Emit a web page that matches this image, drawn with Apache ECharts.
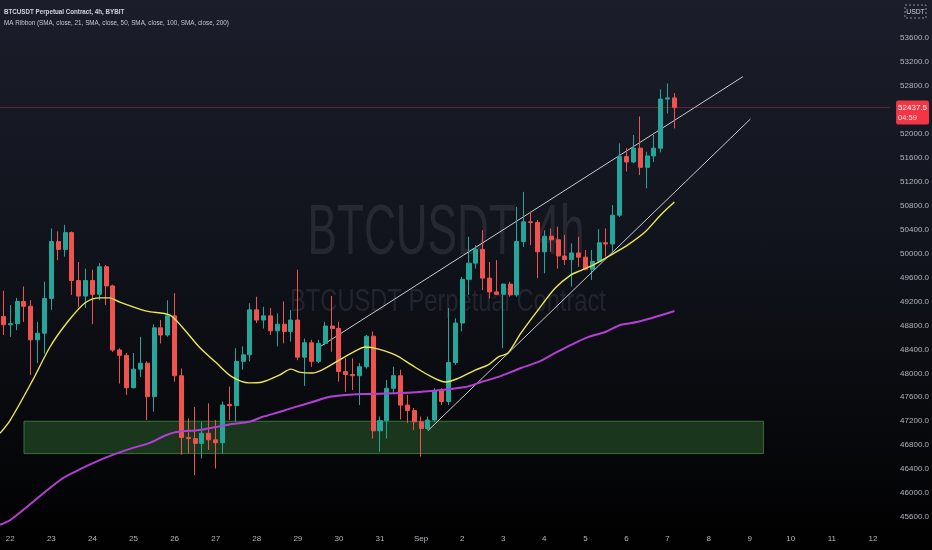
<!DOCTYPE html>
<html><head><meta charset="utf-8">
<script src="https://cdn.jsdelivr.net/npm/echarts/dist/echarts.min.js"></script>
<style>
html,body{margin:0;padding:0;}
body{width:932px;height:550px;overflow:hidden;background:linear-gradient(180deg,#1b1e2a 0%,#12151e 40%,#07080b 80%,#000 100%);}
#c{width:932px;height:550px;}
</style></head><body><div id="c"></div>
<script>
// 4h candles, first one = Aug 21 20:00 (index 0)
const opens  = [48950,48810,48830,49200,49120,48560,48670,49250,50200,50070,50350,49550,49290,49550,49320,49780,49460,48390,48300,47760,48070,48170,47610,48760,48640,48960,47960,46930,46910,46830,47000,46890,46840,47480,47460,48200,48310,49060,48890,48960,48710,48820,48700,48890,48270,48510,48200,48500,48790,48750,48030,47980,47960,48110,48620,47040,47210,47750,47960,47470,47380,47190,47080,47220,47710,47530,48180,48840,49570,49840,50070,49590,49360,49320,49490,49310,50200,50530,50520,50030,50290,50230,49960,49900,50010,49940,49740,49870,50180,50160,50640,51620,51530,51760,51440,51630,51760,52580,52600];
const closes = [48810,48830,49200,49120,48560,48670,49250,50200,50070,50350,49550,49290,49550,49320,49780,49460,48390,48300,47760,48070,48170,47610,48760,48640,48960,47960,46930,46910,46830,47000,46890,46840,47470,47460,48200,48310,49060,48890,48960,48710,48820,48700,48890,48270,48510,48200,48500,48790,48750,48030,47980,47960,48110,48620,47040,47210,47750,47960,47470,47380,47190,47080,47220,47710,47530,48180,48840,49570,49840,50070,49590,49360,49320,49490,49310,50200,50530,50520,50030,50290,50230,49960,49900,50010,49940,49740,49870,50180,50160,50640,51620,51530,51760,51440,51630,51760,52580,52600,52437.5];
const lows   = [48640,48610,48720,48860,47970,48170,48330,49060,49890,49950,49310,49110,49090,48820,49220,49140,48360,47830,47640,47750,47940,47220,47360,48500,48610,47860,46640,46660,46300,46580,46720,46410,46660,47220,47190,48060,48200,48840,48750,48640,48450,48500,48530,48220,47790,48110,48170,48470,48360,47860,47690,47720,47470,48080,46910,46690,46910,47670,47230,47170,47050,46610,47050,47190,47470,47470,48140,48700,49310,49750,49390,49250,49310,48420,49280,49280,50110,50140,49590,49670,50030,49750,49810,49450,49780,49720,49560,49840,49950,50030,50610,51370,51510,51310,51090,51530,51690,52340,52090];
const highs  = [49380,49140,49260,49450,49220,48860,49530,50420,50370,50480,50370,49860,49750,49730,49840,49810,49480,48420,48340,48340,48610,48200,48820,48890,49220,49340,48080,47250,47440,47190,47500,47220,47530,47780,48420,48450,49170,49280,49110,49090,49000,49200,49060,49730,48580,48560,48560,48860,49290,48860,48250,48250,48170,48640,48700,47280,47890,48110,48060,47640,47420,47280,47280,47750,47750,49090,48920,49610,50280,50140,50390,49860,49890,49500,49530,50780,51030,50700,50560,50390,50420,50450,50310,50170,50280,50060,50060,50410,50420,50810,51840,51760,51980,52290,51700,51980,52740,52840,52680];

// moving averages: [candle offset from Aug 22 00:00, price]
const maYellow = [[-1.5,47000],[0,47220],[3.3,47890],[5.8,48440],[8.25,48840],[10.9,49175],[13.1,49260],[14.5,49260],[16,49190],[19.9,49040],[23.25,48975],[25.1,48775],[27.6,48440],[30.1,48175],[32.4,47940],[34.9,47840],[36.8,47855],[39.3,47970],[41,48070],[42.2,48020],[44.1,48005],[45.5,48055],[47.6,48190],[49.9,48340],[51.9,48440],[53.8,48405],[56.3,48305],[58.6,48140],[61.1,47970],[63.6,47855],[65.5,47920],[67.9,48055],[69.8,48140],[71.3,48275],[72.7,48340],[74.6,48675],[77.1,49060],[79.6,49425],[81.9,49645],[83.4,49720],[85.4,49825],[87.7,49975],[90.2,50145],[92.7,50360],[95,50645],[97,50860]];
const maPurple = [[-1.5,45470],[0,45550],[7.5,46235],[10.6,46420],[14.1,46600],[17.9,46755],[20.3,46835],[22.8,46970],[24.3,47020],[27.6,47055],[30.1,47105],[32.4,47155],[34.9,47190],[36.8,47270],[39.3,47355],[41.7,47440],[44.1,47520],[46.5,47605],[49,47640],[51.9,47655],[56.7,47670],[61.5,47705],[66.5,47770],[68.8,47855],[71.3,47940],[74.6,48090],[77.1,48190],[79.6,48340],[81.9,48475],[84.4,48605],[86.9,48690],[89.2,48810],[91.7,48860],[97,49040]];

const trendUpper = [[45.4,48456],[107.0,52954]];
const trendLower = [[61.0,47042],[108.1,52247]];
const zoneTop = 47200, zoneBottom = 46660, zoneStart = 2, zoneEnd = 110;
const countdown = '04:59';

const categories = [];
for (let j = 0; j < 130; j++) {
  const d = new Date(Date.UTC(2021, 7, 21, 20) + j * 4 * 3600 * 1000);
  const mm = String(d.getUTCMonth() + 1).padStart(2, '0');
  const dd = String(d.getUTCDate()).padStart(2, '0');
  const hh = String(d.getUTCHours()).padStart(2, '0');
  categories.push(mm + '-' + dd + ' ' + hh + ':00');
}

const candles = opens.map((o, i) => [o, closes[i], lows[i], highs[i]]);
const lastClose = closes[closes.length - 1];
const FONT = '"Liberation Sans", Arial, sans-serif';
const axisTxt = '#b2b5be';

const chart = echarts.init(document.getElementById('c'), null, {renderer: 'canvas'});
chart.setOption({
  backgroundColor: 'transparent',
  animation: false,
  grid: {left: 0, right: 39, top: 0, bottom: 9, containLabel: false},
  xAxis: [{
    type: 'category', data: categories, boundaryGap: true, offset: -12,
    axisLine: {show: false}, axisTick: {show: false}, splitLine: {show: false},
    axisLabel: {
      color: axisTxt, fontSize: 8, fontFamily: FONT, margin: 6,
      interval: (idx, val) => val.endsWith(' 00:00'),
      formatter: (val) => { const d = val.split(' ')[0].split('-')[1]; return d === '01' ? 'Sep' : String(+d); }
    }
  }, {
    type: 'value', min: -1.5, max: 128.5, show: false
  }],
  yAxis: {
    type: 'value', position: 'right', min: 45200, max: 54234.6, interval: 400,
    axisLine: {show: false}, axisTick: {show: false}, splitLine: {show: false},
    axisLabel: {
      color: axisTxt, fontSize: 8, fontFamily: FONT, margin: 10,
      showMaxLabel: false,
      formatter: (v) => (v > 53600 || v < 45600) ? '' : v.toFixed(1)
    }
  },
  graphic: [
    {type: 'text', x: 446, y: 235, scaleX: 0.63, z: 0, silent: true,
     style: {text: 'BTCUSDT, 4h', fontSize: 70, fontFamily: FONT, fill: 'rgba(140,145,160,0.16)', align: 'center', verticalAlign: 'middle'}},
    {type: 'text', x: 448, y: 302, scaleX: 0.74, z: 0, silent: true,
     style: {text: 'BTCUSDT Perpetual Contract', fontSize: 32, fontFamily: FONT, fill: 'rgba(140,145,160,0.16)', align: 'center', verticalAlign: 'middle'}},
    {type: 'text', x: 4, y: 11.5, z: 10, scaleX: 0.78,
     style: {text: 'BTCUSDT Perpetual Contract, 4h, BYBIT', fontSize: 8, fontWeight: 'bold', fontFamily: FONT, fill: '#d1d4dc', align: 'left', verticalAlign: 'middle'}},
    {type: 'text', x: 4, y: 23, z: 10, scaleX: 0.79,
     style: {text: 'MA Ribbon (SMA, close, 21, SMA, close, 50, SMA, close, 100, SMA, close, 200)', fontSize: 8, fontFamily: FONT, fill: '#c3c6ce', align: 'left', verticalAlign: 'middle'}},
    {type: 'rect', z: 10, shape: {x: 905, y: 5, width: 21, height: 13}, style: {fill: 'none', stroke: '#8a8d96', lineWidth: 1, lineDash: [2, 2]}},
    {type: 'text', x: 915.5, y: 11.5, z: 10, scaleX: 0.85,
     style: {text: 'USDT', fontSize: 8, fontFamily: FONT, fill: '#d1d4dc', align: 'center', verticalAlign: 'middle'}}
  ],
  series: [
    {
      type: 'line', xAxisIndex: 1, data: trendUpper, showSymbol: false, silent: true, z: 1,
      lineStyle: {color: '#c9cbd1', width: 1},
      markArea: {
        silent: true,
        itemStyle: {color: 'rgba(76,175,80,0.28)', borderColor: 'rgba(90,180,90,0.55)', borderWidth: 1},
        data: [[{xAxis: zoneStart, yAxis: zoneTop}, {xAxis: zoneEnd, yAxis: zoneBottom}]]
      }
    },
    {type: 'line', xAxisIndex: 1, data: trendLower, showSymbol: false, silent: true, z: 3,
     lineStyle: {color: '#c9cbd1', width: 1}},
    {
      type: 'candlestick', xAxisIndex: 0, data: candles, barWidth: '66%', z: 2,
      itemStyle: {color: '#26a69a', color0: '#ef5350', borderColor: '#26a69a', borderColor0: '#ef5350', borderWidth: 1},
      markLine: {
        symbol: 'none', silent: true, animation: false,
        lineStyle: {color: 'rgba(242,54,69,0.35)', type: 'solid', width: 1},
        data: [{yAxis: lastClose}],
        label: {
          position: 'end', distance: 6, offset: [0, 5],
          backgroundColor: '#f23645', borderRadius: 2, padding: [2, 2],
          formatter: () => '{a|' + lastClose.toFixed(1) + '}\n{b|' + countdown + '}',
          rich: {
            a: {color: '#ffffff', fontSize: 8, fontFamily: FONT, lineHeight: 10},
            b: {color: 'rgba(255,255,255,0.85)', fontSize: 7.5, fontFamily: FONT, lineHeight: 10}
          }
        }
      }
    },
    {type: 'line', xAxisIndex: 1, data: maYellow, showSymbol: false, smooth: 0.3, silent: true, z: 4,
     lineStyle: {color: '#ece84e', width: 1.4}},
    {type: 'line', xAxisIndex: 1, data: maPurple, showSymbol: false, smooth: 0.3, silent: true, z: 4,
     lineStyle: {color: '#b43fd6', width: 2}}
  ]
});
</script>
</body></html>
